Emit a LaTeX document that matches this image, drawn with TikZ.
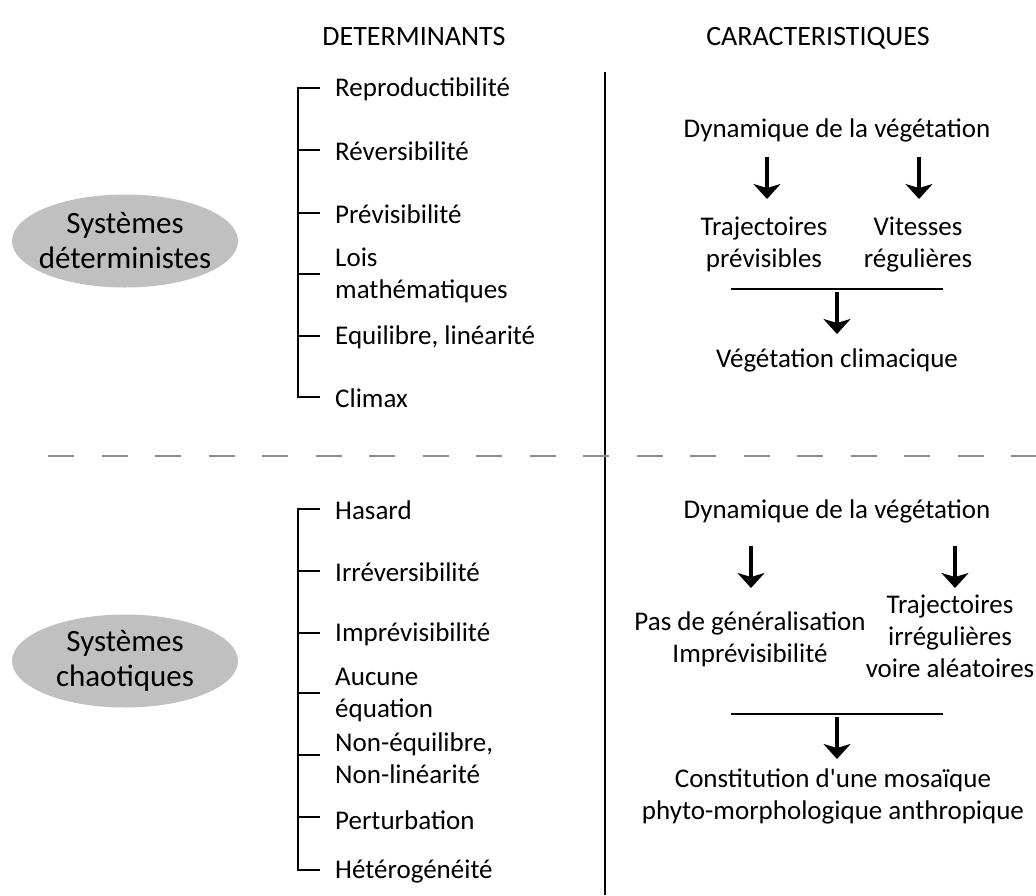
\documentclass[tikz,border=0pt]{standalone}
\usepackage{fontspec}
\newfontfamily\cfont{Carlito}
\usetikzlibrary{arrows.meta,shapes.geometric}
\definecolor{ellgray}{HTML}{C0C0C0}
\definecolor{dashgray}{HTML}{8C8C8C}
\begin{document}
\begin{tikzpicture}[x=1pt,y=-1pt,
  item/.style={anchor=west,inner sep=0pt,align=left,font=\cfont\fontsize{27}{32}\selectfont},
  ctext/.style={inner sep=0pt,align=center,font=\cfont\fontsize{27}{32}\selectfont},
  head/.style={inner sep=0pt,anchor=base,font=\cfont\fontsize{28}{30}\selectfont},
  sysell/.style={ellipse,fill=ellgray,minimum width=226pt,minimum height=93pt,inner sep=0pt},
  systext/.style={inner sep=0pt,align=center,font=\cfont\fontsize{31}{35}\selectfont},
  brk/.style={line width=1.8pt,black,line join=miter},
  arr/.style={line width=3.2pt,-{Stealth[length=15pt,width=27pt,inset=4pt]}},
  bar/.style={line width=1.8pt}
]
\useasboundingbox (0,0) rectangle (1036,895);

% headers
\node[head] (hdet) at (414,45) {DETERMINANTS};
\node[head] (hcar) at (818,45) {CARACTERISTIQUES};

% divider and dashed separator
\coordinate (vtop) at (605,72);
\coordinate (vbot) at (605,895);
\draw[line width=2.2pt] (vtop) -- (vbot);
\coordinate (dl) at (48,456);
\coordinate (dr) at (1040,456);
\draw[dashgray,line width=2.4pt,dash pattern=on 26pt off 27.5pt] (dl) -- (dr);

% ellipses
\node[sysell] (sdet) at (125,241) {};
\node[systext] (sdett) at (sdet.center) {Systèmes\\déterministes};
\node[sysell] (scha) at (125,661) {};
\node[systext] (schat) at (scha.center) {Systèmes\\chaotiques};

% top bracket
\draw[brk] (320,88) -- (298,88) -- (298,397) -- (320,397);
\foreach \yy in {150,213,274,336} \draw[brk] (298,\yy) -- (320,\yy);
\node[item] (r1) at (335,89) {Reproductibilité};
\node[item] (r2) at (335,151) {Réversibilité};
\node[item] (r3) at (335,214) {Prévisibilité};
\node[item] (r4) at (335,275) {Lois\\mathématiques};
\node[item] (r5) at (335,337) {Equilibre, linéarité};
\node[item] (r6) at (335,398) {Climax};

% bottom bracket
\draw[brk] (320,509) -- (298,509) -- (298,870) -- (320,870);
\foreach \yy in {571,633,693,755,817} \draw[brk] (298,\yy) -- (320,\yy);
\node[item] (c1) at (335,510) {Hasard};
\node[item] (c2) at (335,572) {Irréversibilité};
\node[item] (c3) at (335,634) {Imprévisibilité};
\node[item] (c4) at (335,695) {Aucune\\équation};
\node[item] (c5) at (335,758) {Non-équilibre,\\Non-linéarité};
\node[item] (c6) at (335,820) {Perturbation};
\node[item] (c7) at (335,872) {Hétérogénéité};

% top right
\node[ctext] (d1) at (837,130) {Dynamique de la végétation};
\node[ctext] (t1) at (764,244) {Trajectoires\\prévisibles};
\node[ctext] (v1) at (918,245) {Vitesses\\régulières};
\node[ctext] (g1) at (837,360) {Végétation climacique};
\coordinate (a1s) at (767,157); \coordinate (a1e) at (767,199);
\coordinate (a2s) at (919,157); \coordinate (a2e) at (919,199);
\draw[arr] (a1s) -- (a1e);
\draw[arr] (a2s) -- (a2e);
\coordinate (b1l) at (731,289); \coordinate (b1r) at (943,289);
\draw[bar] (b1l) -- (b1r);
\coordinate (a3s) at (837,292); \coordinate (a3e) at (837,334);
\draw[arr] (a3s) -- (a3e);

% bottom right
\node[ctext] (d2) at (837,511) {Dynamique de la végétation};
\node[ctext] (p2) at (750,639) {Pas de généralisation\\Imprévisibilité};
\node[ctext] (t2) at (950,636) {Trajectoires\\irrégulières\\voire aléatoires};
\node[ctext] (m2) at (833,796) {Constitution d'une mosaïque\\phyto-morphologique anthropique};
\coordinate (a4s) at (751,546); \coordinate (a4e) at (751,588);
\coordinate (a5s) at (955,546); \coordinate (a5e) at (955,588);
\draw[arr] (a4s) -- (a4e);
\draw[arr] (a5s) -- (a5e);
\coordinate (b2l) at (731,714); \coordinate (b2r) at (943,714);
\draw[bar] (b2l) -- (b2r);
\coordinate (a6s) at (837,717); \coordinate (a6e) at (837,759);
\draw[arr] (a6s) -- (a6e);
\end{tikzpicture}
\end{document}
